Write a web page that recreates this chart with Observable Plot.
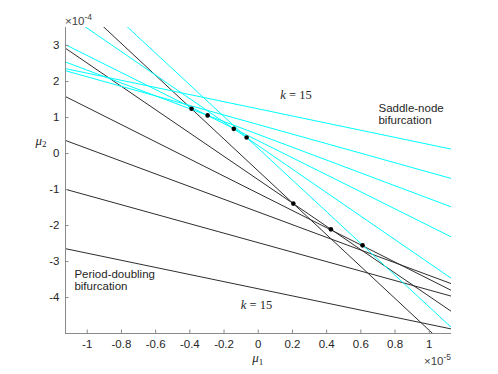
<!DOCTYPE html>
<html><head><meta charset="utf-8">
<script src="https://cdn.jsdelivr.net/npm/d3@7"></script>
<script src="https://cdn.jsdelivr.net/npm/@observablehq/plot@0.6"></script>
<style>
html,body{margin:0;padding:0;background:#fff;}
#chart svg{display:block;}
</style></head><body><div id="chart"></div>
<script>
// axes (mu1 in units of 1e-5, mu2 in units of 1e-4)
const mu1Domain = [-1.127, 1.13];
const mu2Domain = [-5, 3.5];
const xTicks = [-1, -0.8, -0.6, -0.4, -0.2, 0, 0.2, 0.4, 0.6, 0.8, 1];
const xTickLabels = ["-1", "-0.8", "-0.6", "-0.4", "-0.2", "0", "0.2", "0.4", "0.6", "0.8", "1"];
const yTicks = [-4, -3, -2, -1, 0, 1, 2, 3];
const yTickLabels = ["-4", "-3", "-2", "-1", "0", "1", "2", "3"];

// each line: mu2 value at the left and right ends of the mu1 range
const edgeMu1 = [-1.127, 1.13];
const pdLeft  = [4.503, 2.922, 1.581, 0.362, -0.994, -2.644];   // period-doubling (black)
const pdRight = [-5.488, -4.389, -3.805, -3.618, -3.964, -4.875];
const snLeft  = [5.110, 3.896, 3.022, 2.541, 2.357, 2.299];      // saddle-node (cyan)
const snRight = [-4.837, -3.471, -2.321, -1.486, 0.120, -0.696];

// marked points
const dotMu1 = [-0.390, -0.296, -0.143, -0.068, 0.205, 0.425, 0.610];
const dotMu2 = [1.241, 1.058, 0.685, 0.445, -1.392, -2.107, -2.552];

// annotations
const noteText = ["Saddle-node\nbifurcation", "Period-doubling\nbifurcation"];
const noteMu1 = [0.703, -1.075];
const noteMu2 = [1.40, -3.22];
const kMu1 = [0.224, -0.007];
const kMu2 = [1.62, -4.222];

const pdLines = pdLeft.map((v, i) => ({x1: edgeMu1[0], y1: v, x2: edgeMu1[1], y2: pdRight[i]}));
const snLines = snLeft.map((v, i) => ({x1: edgeMu1[0], y1: v, x2: edgeMu1[1], y2: snRight[i]}));
const dots = dotMu1.map((v, i) => ({mu1: v, mu2: dotMu2[i]}));
const notes = noteText.map((t, i) => ({t, mu1: noteMu1[i], mu2: noteMu2[i]}));

const axisGray = "#8a8a8a";
const textColor = "#262626";

const chart = Plot.plot({
  width: 498, height: 374,
  marginLeft: 65, marginRight: 47, marginTop: 27, marginBottom: 41,
  style: {fontFamily: "'Liberation Sans', Arial, sans-serif", fontSize: "11.5px", color: textColor, background: "#fff"},
  x: {domain: mu1Domain, label: null},
  y: {domain: mu2Domain, label: null},
  marks: [
    Plot.link(pdLines, {x1: "x1", y1: "y1", x2: "x2", y2: "y2", stroke: "#2e2e2e", strokeWidth: 1, clip: true}),
    Plot.link(snLines, {x1: "x1", y1: "y1", x2: "x2", y2: "y2", stroke: "#00ffff", strokeWidth: 1, clip: true}),
    Plot.dot(dots, {x: "mu1", y: "mu2", r: 2.3, fill: "#000", stroke: null}),
    Plot.ruleY([mu2Domain[0]], {stroke: axisGray}),
    Plot.ruleX([mu1Domain[0]], {stroke: axisGray}),
    Plot.axisX({ticks: xTicks, tickFormat: d => xTickLabels[xTicks.indexOf(d)], tickSize: -3.5, tickPadding: 9.5, stroke: axisGray, fill: textColor, label: null}),
    Plot.axisY({ticks: yTicks, tickFormat: d => yTickLabels[yTicks.indexOf(d)], tickSize: -3.5, tickPadding: 9.5, stroke: axisGray, fill: textColor, label: null}),
    Plot.text(notes, {x: "mu1", y: "mu2", text: "t", textAnchor: "start", lineAnchor: "top", lineHeight: 1.05, fill: textColor, fontSize: 11.5})
  ]
});
document.getElementById("chart").appendChild(chart);

const sx = v => chart.scale("x").apply(v);
const sy = v => chart.scale("y").apply(v);
const svg = d3.select(chart);
const g = svg.append("g").attr("fill", textColor);
const serif = "'Liberation Serif', 'DejaVu Serif', serif";

// k = 15 labels
kMu1.forEach((m, i) => {
  const t = g.append("text").attr("x", sx(m)).attr("y", sy(kMu2[i])).attr("dy", "0.35em")
    .attr("text-anchor", "middle").attr("font-family", serif).attr("font-size", 12.5);
  t.append("tspan").attr("font-style", "italic").text("k");
  t.append("tspan").text(" = 15");
});

// axis labels
const l1 = g.append("text").attr("x", sx(0)).attr("y", 362).attr("text-anchor", "middle")
  .attr("font-family", serif).attr("font-size", 13);
l1.append("tspan").attr("font-style", "italic").text("μ");
l1.append("tspan").attr("font-size", 9).attr("dy", 2.5).text("1");

const l2 = g.append("text").attr("x", 41).attr("y", sy(0.34)).attr("dy", "0.3em").attr("text-anchor", "middle")
  .attr("font-family", serif).attr("font-size", 13);
l2.append("tspan").attr("font-style", "italic").text("μ");
l2.append("tspan").attr("font-size", 9).attr("dy", 2.5).text("2");

// exponent labels
const e4 = g.append("text").attr("x", sx(mu1Domain[0])).attr("y", 24.5).attr("text-anchor", "start")
  .attr("font-size", 11.5).attr("fill", "#404040");
e4.append("tspan").text("×10");
e4.append("tspan").attr("font-size", 8.5).attr("dy", -4.5).text("-4");

const e5 = g.append("text").attr("x", sx(mu1Domain[1])).attr("y", 364.5).attr("text-anchor", "end")
  .attr("font-size", 11.5).attr("fill", "#404040");
e5.append("tspan").text("×10");
e5.append("tspan").attr("font-size", 8.5).attr("dy", -4.5).text("-5");
</script>
</body></html>
